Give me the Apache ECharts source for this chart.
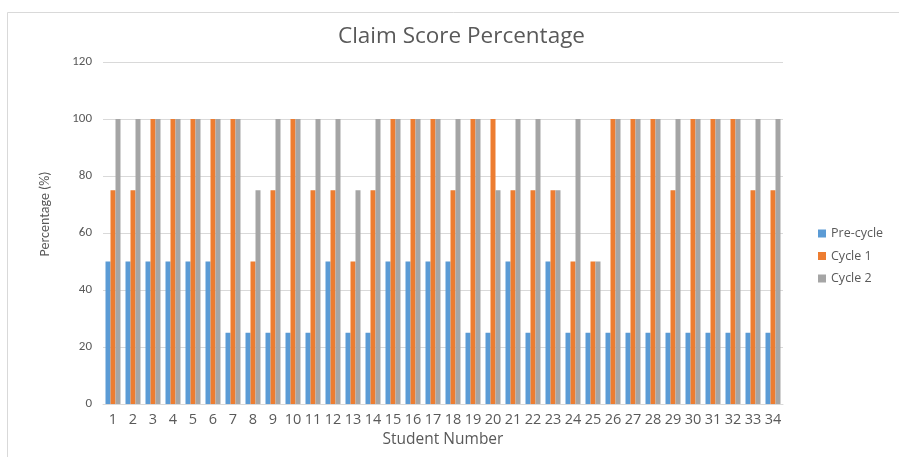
<!DOCTYPE html>
<html>
<head>
<meta charset="utf-8">
<script src="https://cdn.jsdelivr.net/npm/echarts@6/dist/echarts.min.js"></script>
<style>
html,body{margin:0;padding:0;background:#fff;}
#chart{width:899px;height:457px;}
</style>
</head>
<body>
<div id="chart"></div>
<script>
var categories = ['1','2','3','4','5','6','7','8','9','10','11','12','13','14','15','16','17','18','19','20','21','22','23','24','25','26','27','28','29','30','31','32','33','34'];
var preCycle = [50,50,50,50,50,50,25,25,25,25,25,50,25,25,50,50,50,50,25,25,50,25,50,25,25,25,25,25,25,25,25,25,25,25];
var cycle1 = [75,75,100,100,100,100,100,50,75,100,75,75,50,75,100,100,100,75,100,100,75,75,75,50,50,100,100,100,75,100,100,100,75,75];
var cycle2 = [100,100,100,100,100,100,100,75,100,100,100,100,75,100,100,100,100,100,100,75,100,100,75,100,50,100,100,100,100,100,100,100,100,100];
var yTicks = [0,20,40,60,80,100,120];

var narrow = 'Carlito, "Liberation Sans Narrow", sans-serif';
var wide = '"Open Sans", "Noto Sans", sans-serif';
var chart = echarts.init(document.getElementById('chart'));
chart.setOption({
  animation: false,
  backgroundColor: '#fff',
  graphic: [{
    type: 'rect', left: 5, top: 10,
    shape: {width: 900, height: 460},
    style: {fill: 'none', stroke: '#d9d9d9', lineWidth: 1}
  }, {
    type: 'text', x: 45, y: 214, rotation: Math.PI / 2,
    style: {text: 'Percentage (%)', fill: '#595959', font: '14px ' + narrow, textAlign: 'center', textVerticalAlign: 'middle'}
  }],
  title: {
    text: 'Claim Score Percentage', left: 333, top: 20,
    textStyle: {fontFamily: wide, fontSize: 22.5, fontWeight: 'normal', color: '#595959'}
  },
  legend: {
    orient: 'vertical', left: 813, top: 222, itemGap: 9.5,
    itemWidth: 8, itemHeight: 8, icon: 'rect',
    textStyle: {fontFamily: wide, fontSize: 12.5, color: '#595959'},
    data: ['Pre-cycle','Cycle 1','Cycle 2']
  },
  grid: {left: 103, right: 116, top: 62, bottom: 53, containLabel: false},
  xAxis: {
    type: 'category', data: categories,
    name: 'Student Number', nameLocation: 'middle', nameGap: 28,
    nameTextStyle: {fontFamily: wide, fontSize: 15.5, color: '#595959'},
    axisLine: {lineStyle: {color: '#d9d9d9'}},
    axisTick: {show: false},
    axisLabel: {interval: 0, fontFamily: wide, fontSize: 14.5, color: '#595959', margin: 8}
  },
  yAxis: {
    type: 'value', min: yTicks[0], max: yTicks[yTicks.length-1], interval: 20,
    axisLine: {show: false}, axisTick: {show: false},
    axisLabel: {fontFamily: narrow, fontSize: 13, color: '#595959', margin: 11},
    splitLine: {lineStyle: {color: '#d9d9d9'}}
  },
  series: [
    {name: 'Pre-cycle', type: 'bar', data: preCycle, itemStyle: {color: '#5b9bd5'}, barGap: '0%', barCategoryGap: '25%'},
    {name: 'Cycle 1', type: 'bar', data: cycle1, itemStyle: {color: '#ed7d31'}, barGap: '0%', barCategoryGap: '25%'},
    {name: 'Cycle 2', type: 'bar', data: cycle2, itemStyle: {color: '#a5a5a5'}, barGap: '0%', barCategoryGap: '25%'}
  ]
});
</script>
</body>
</html>
